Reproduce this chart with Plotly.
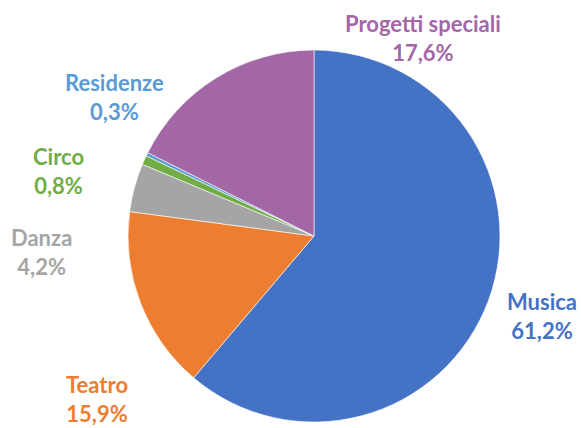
import plotly.graph_objects as go

# dati
categorie = ["Musica", "Teatro", "Danza", "Circo", "Residenze", "Progetti speciali"]
percentuali = [61.2, 15.9, 4.2, 0.8, 0.3, 17.6]
colori = ["#4472C4", "#ED7D31", "#A5A5A5", "#70AD47", "#5B9BD5", "#A366A6"]

# posizione delle etichette (pixel, centro del blocco di testo)
etichette_xy = [(542, 316), (97, 399), (41, 252), (58, 171), (114, 97), (423, 38)]

W, H = 581, 428

fig = go.Figure()
fig.add_trace(go.Pie(
    labels=categorie,
    values=percentuali,
    marker=dict(colors=colori, line=dict(color="white", width=0.6)),
    sort=False,
    direction="clockwise",
    rotation=0,
    textinfo="none",
    hoverinfo="label+percent",
    domain=dict(x=[0.2186, 0.8623], y=[0.0140, 0.8830]),
    showlegend=False,
))

for cat, val, col, (px, py) in zip(categorie, percentuali, colori, etichette_xy):
    testo = f"{cat}<br>{val:.1f}%".replace(".", ",")
    fig.add_annotation(
        x=px / W, y=1 - py / H, xref="paper", yref="paper",
        xanchor="center", yanchor="middle",
        text=testo, showarrow=False, align="center",
        font=dict(family="Lato", size=22, color=col, weight="bold"),
    )

fig.update_layout(
    width=W, height=H,
    margin=dict(l=0, r=0, t=0, b=0),
    paper_bgcolor="white", plot_bgcolor="white",
)

fig.write_html("out.html", config={"displayModeBar": False},
               post_script="document.body.style.margin='0';")
